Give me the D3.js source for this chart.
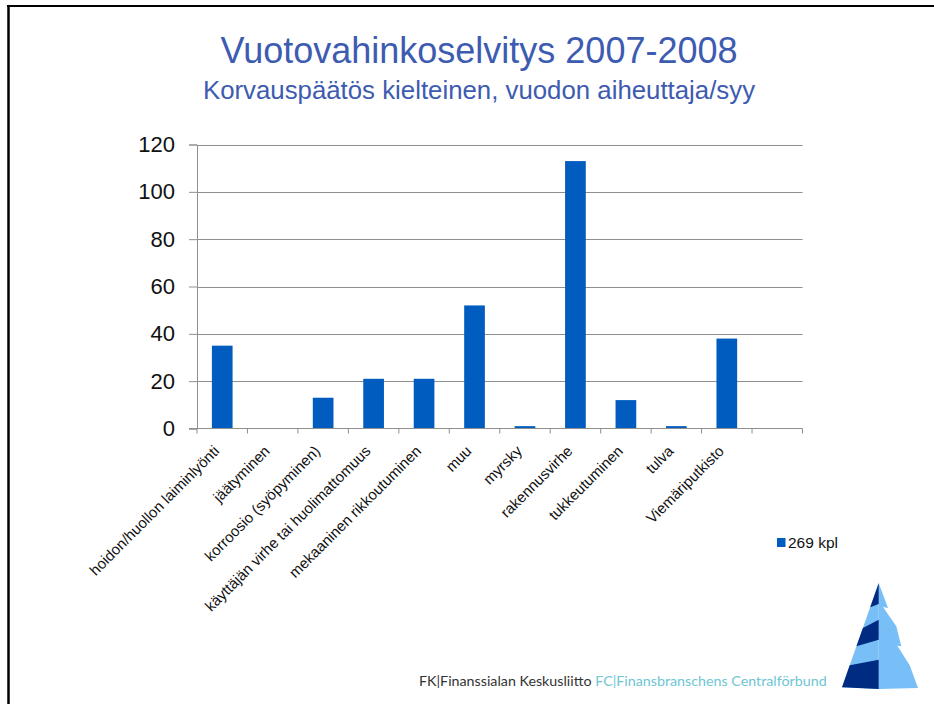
<!DOCTYPE html>
<html>
<head>
<meta charset="utf-8">
<script src="https://cdn.jsdelivr.net/npm/d3@7"></script>
<style>
  html, body { margin: 0; padding: 0; background: #fff; }
  svg { display: block; }
</style>
</head>
<body>
<svg id="chart" width="934" height="704"></svg>
<script>
// Causes of leak damage where compensation was refused (count of cases)
const categories = [
  "hoidon/huollon laiminlyönti",
  "jäätyminen",
  "korroosio (syöpyminen)",
  "käyttäjän virhe tai huolimattomuus",
  "mekaaninen rikkoutuminen",
  "muu",
  "myrsky",
  "rakennusvirhe",
  "tukkeutuminen",
  "tulva",
  "Viemäriputkisto",
  ""
];
const values = [35, 0, 13, 21, 21, 52, 1, 113, 12, 1, 38, null];
const yTicks = [0, 20, 40, 60, 80, 100, 120];
const seriesName = "269 kpl";
const titleText = "Vuotovahinkoselvitys 2007-2008";
const subtitleText = "Korvauspäätös kielteinen, vuodon aiheuttaja/syy";
const footerLeft = "FK|Finanssialan Keskusliitto";
const footerRight = "FC|Finansbranschens Centralförbund";

const svg = d3.select("#chart");
const font = "'Liberation Sans', Arial, sans-serif";
const barColor = "#005cbf";
const gridColor = "#8f8f8f";

// slide frame (left and top rules)
svg.append("line").attr("x1", 8.5).attr("x2", 8.5).attr("y1", 5).attr("y2", 704)
  .attr("stroke", "#000").attr("stroke-width", 2.5);
svg.append("line").attr("x1", 7).attr("x2", 934).attr("y1", 6).attr("y2", 6)
  .attr("stroke", "#000").attr("stroke-width", 2.2);

// titles
svg.append("text").attr("x", 479).attr("y", 63).attr("text-anchor", "middle")
  .attr("font-family", font).attr("font-size", 36).attr("fill", "#3d5bb1")
  .text(titleText);
svg.append("text").attr("x", 479).attr("y", 99).attr("text-anchor", "middle")
  .attr("font-family", font).attr("font-size", 25.8).attr("fill", "#3d5bb1")
  .text(subtitleText);

// scales
const x = d3.scaleBand().domain(categories).range([197, 802.5])
  .paddingInner(0.59).paddingOuter(0.295);
const y = d3.scaleLinear().domain([0, 120]).range([428.5, 144.5]);
const step = x.step();
const x0 = 197, x1 = 802.5;

// gridlines + y axis
const yAxis = d3.axisLeft(y).tickValues(yTicks).tickSize(8).tickPadding(14)
  .tickFormat(d3.format("d"));
const gY = svg.append("g").attr("transform", `translate(${x0},0)`).call(yAxis);
gY.select(".domain").attr("stroke", gridColor);
gY.selectAll(".tick line").attr("stroke", gridColor);
gY.selectAll(".tick text").attr("font-family", font).attr("font-size", 22)
  .attr("fill", "#111");

svg.append("g").selectAll("line").data(yTicks.filter(d => d > 0)).join("line")
  .attr("x1", x0).attr("x2", x1)
  .attr("y1", d => Math.round(y(d)) + 0.5).attr("y2", d => Math.round(y(d)) + 0.5)
  .attr("stroke", gridColor).attr("stroke-width", 1);

// bars
svg.append("g").selectAll("rect")
  .data(categories.map((c, i) => ({ c, v: values[i] })).filter(d => d.v != null && d.v > 0))
  .join("rect")
  .attr("x", d => x(d.c)).attr("width", x.bandwidth())
  .attr("y", d => y(d.v)).attr("height", d => y(0) - y(d.v))
  .attr("fill", barColor);

// x axis line and category boundary ticks
svg.append("line").attr("x1", x0 - 8).attr("x2", x1)
  .attr("y1", y(0)).attr("y2", y(0)).attr("stroke", gridColor).attr("stroke-width", 1.2);
svg.append("g").selectAll("line").data(d3.range(categories.length + 1)).join("line")
  .attr("x1", i => x0 + i * step).attr("x2", i => x0 + i * step)
  .attr("y1", y(0)).attr("y2", y(0) + 5)
  .attr("stroke", gridColor).attr("stroke-width", 1);

// rotated category labels
svg.append("g").selectAll("text").data(categories.filter(c => c !== "")).join("text")
  .attr("transform", d => `translate(${x(d) + x.bandwidth() / 2 - 2},452) rotate(-45)`)
  .attr("text-anchor", "end")
  .attr("font-family", font).attr("font-size", 15).attr("fill", "#111")
  .text(d => d);

// legend
svg.append("rect").attr("x", 777).attr("y", 538).attr("width", 8.5).attr("height", 9)
  .attr("fill", barColor);
svg.append("text").attr("x", 788).attr("y", 548)
  .attr("font-family", font).attr("font-size", 15.5).attr("fill", "#111")
  .text(seriesName);

// footer text, sized to span its slot
const foot = svg.append("text").attr("x", 419).attr("y", 686)
  .attr("font-family", "'Liberation Sans Narrow', Lato, sans-serif").attr("font-size", 14);
foot.append("tspan").attr("fill", "#333").text(footerLeft);
foot.append("tspan").attr("fill", "#6ec6d2").text(" " + footerRight);
const fw = foot.node().getComputedTextLength();
foot.attr("font-size", 14 * 408 / fw);

// pyramid emblem
const emb = svg.append("g");
const light = "#78bff7", dark = "#002b82";
const poly = (pts, fill) => emb.append("polygon")
  .attr("points", pts.map(p => p.join(",")).join(" ")).attr("fill", fill);
poly([[878.7,583],[878.7,689],[842,687.3]], light);
poly([[878.7,583],[888,608],[883,607],[896.3,626.3],[901.3,646.3],[897.3,645.7],
      [909.7,665.3],[918,688],[878.7,689]], light);
poly([[878.7,583],[878.7,604],[870.2,607.3]], dark);
poly([[878.7,619.7],[878.7,639.7],[856.4,646.3],[862.9,628]], dark);
poly([[878.7,659.7],[878.7,689],[842,687.3],[849.7,665.3]], dark);
</script>
</body>
</html>
